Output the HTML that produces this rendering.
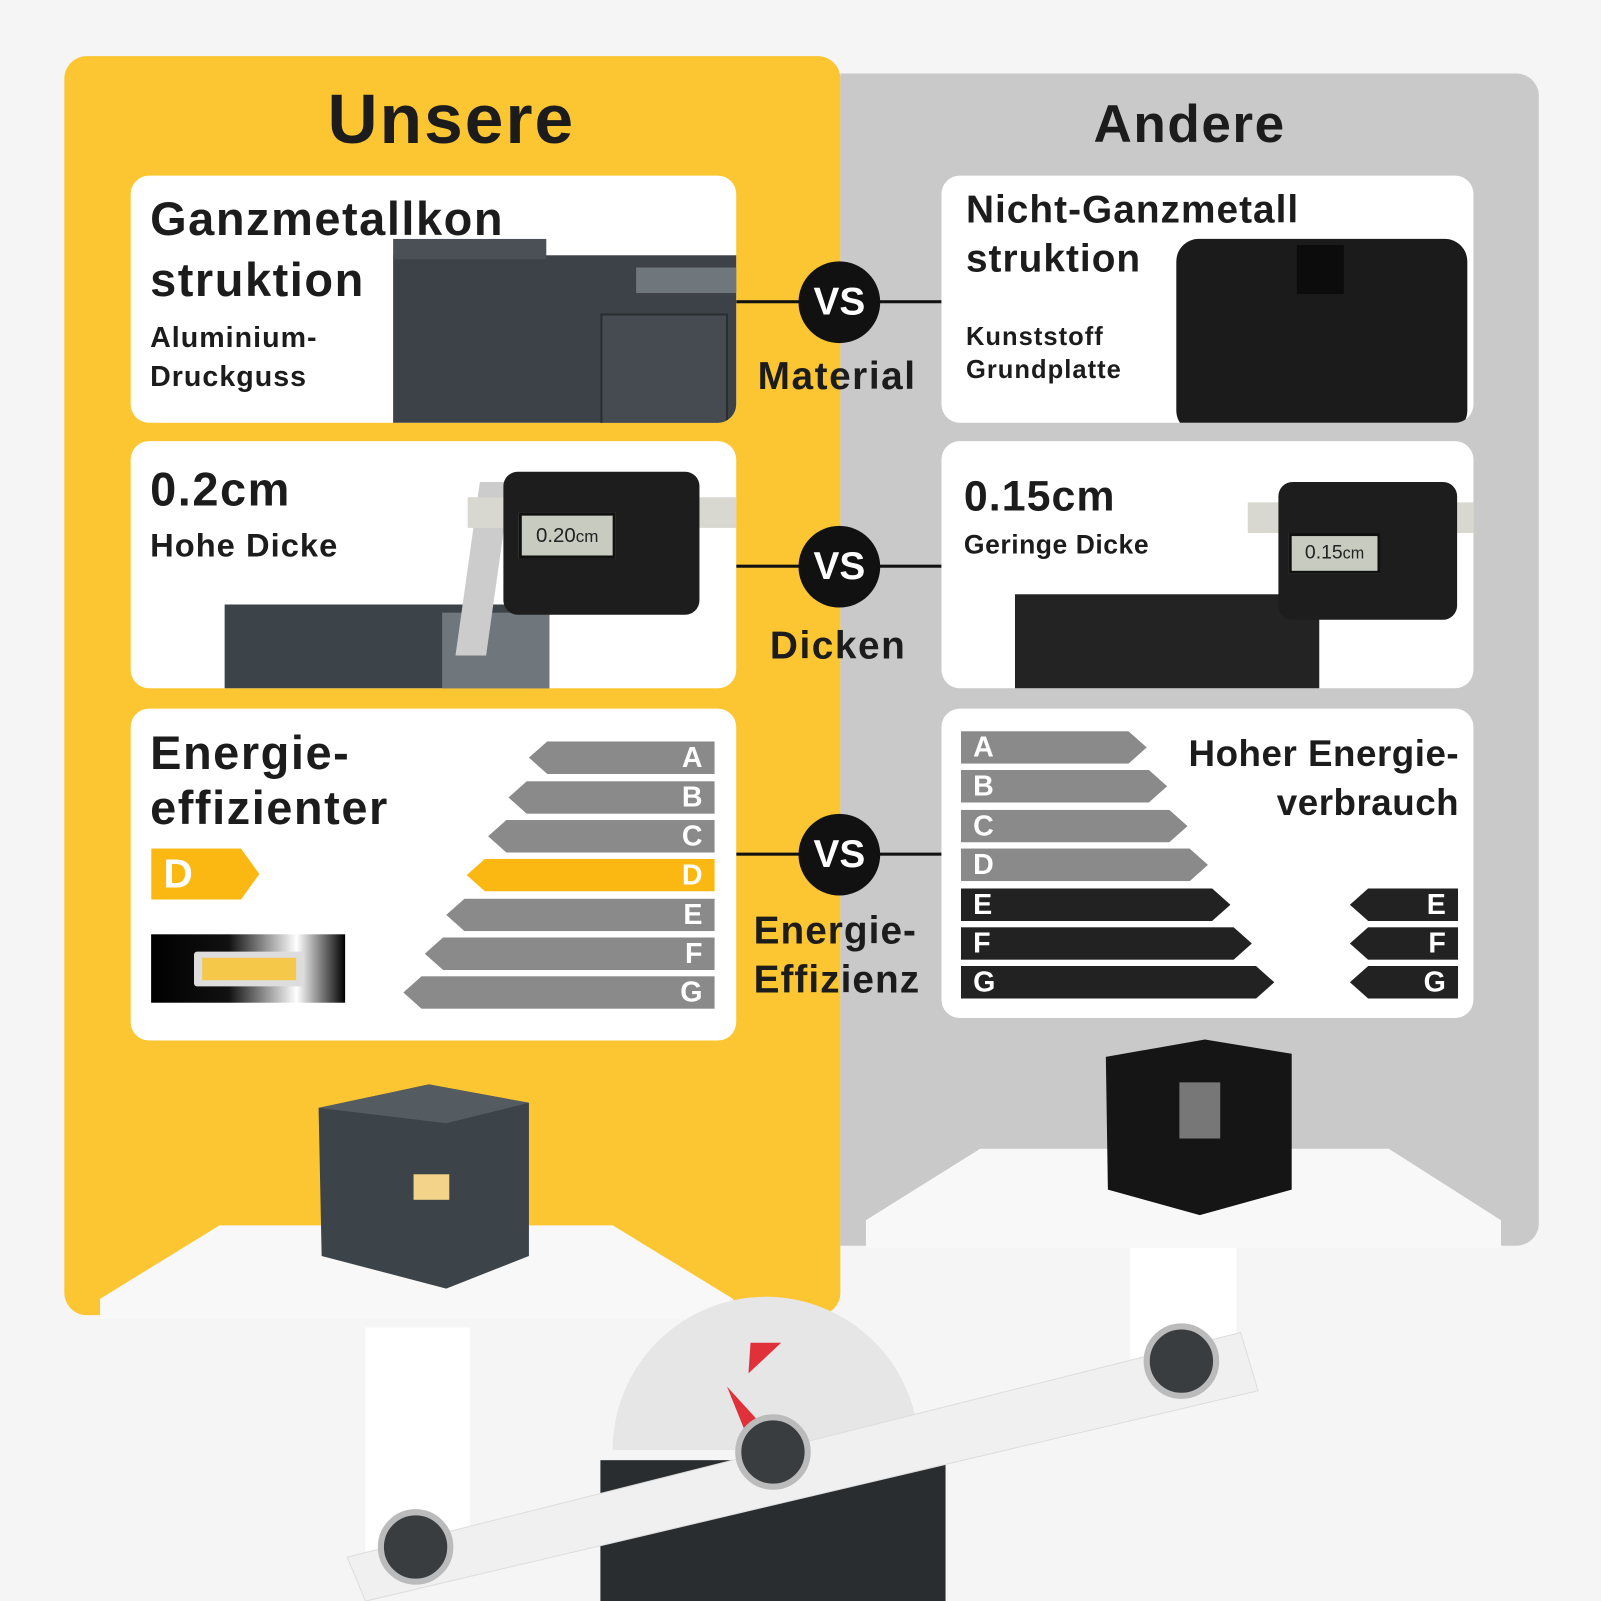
<!DOCTYPE html>
<html><head><meta charset="utf-8"><style>
*{margin:0;padding:0;box-sizing:border-box}
html,body{width:1601px;height:1601px;overflow:hidden;background:#f4f4f4;font-family:"Liberation Sans","DejaVu Sans",sans-serif}
#w{position:absolute;left:0;top:0;width:1568px;height:1568px;transform:scale(1.0211);transform-origin:0 0;background:#f5f5f5}
.a{position:absolute}
.card{position:absolute;background:#fff;border-radius:18px;overflow:hidden}
.t{position:absolute;color:#1c1c1c;font-weight:bold;white-space:nowrap;letter-spacing:0.5px}
.vs{position:absolute;width:80px;height:80px;border-radius:50%;background:#111;color:#fff;font-weight:bold;font-size:38px;text-align:center;line-height:80px}
.ln{position:absolute;height:3px;background:#111}
.bl{position:absolute;height:32px;color:#fff;font-weight:bold;font-size:28px;line-height:32px}
.L{clip-path:polygon(0 50%,18px 0,100% 0,100% 100%,18px 100%);text-align:right;padding-right:12px}
.R{clip-path:polygon(0 0,calc(100% - 18px) 0,100% 50%,calc(100% - 18px) 100%,0 100%);padding-left:12px}
</style></head><body><div id="w">
<div class="a" style="left:63px;top:55px;width:760px;height:1233px;background:#fcc632;border-radius:22px"></div>
<div class="a" style="left:823px;top:72px;width:684px;height:1148px;background:#c9c9c9;border-radius:0 22px 22px 0"></div>
<div class="t" style="left:0;width:884px;text-align:center;top:78px;font-size:68px;letter-spacing:2px">Unsere</div>
<div class="t" style="left:922px;width:486px;text-align:center;top:92px;font-size:52px;letter-spacing:1.5px">Andere</div>

<div class="ln" style="left:721px;width:201px;top:294px"></div>
<div class="ln" style="left:721px;width:201px;top:553px"></div>
<div class="ln" style="left:721px;width:201px;top:835px"></div>
<div class="vs" style="left:782px;top:256px">VS</div>
<div class="vs" style="left:782px;top:515px">VS</div>
<div class="vs" style="left:782px;top:797px">VS</div>
<div class="t" style="left:742px;top:348px;font-size:38px;letter-spacing:1.5px">Material</div>
<div class="t" style="left:754px;top:612px;font-size:38px;letter-spacing:1.5px">Dicken</div>
<div class="t" style="left:738px;top:888px;font-size:38px;line-height:48px;letter-spacing:1px">Energie-<br>Effizienz</div>

<div class="card" style="left:128px;top:172px;width:593px;height:242px">
 <div class="a" style="left:257px;top:78px;width:340px;height:170px;background:#3c4247"></div>
 <div class="a" style="left:257px;top:62px;width:150px;height:20px;background:#4a5055"></div>
 <div class="a" style="left:495px;top:90px;width:100px;height:25px;background:#70777c"></div>
 <div class="a" style="left:460px;top:135px;width:125px;height:110px;border:2px solid #2a2e31;background:#454b50"></div>
 <div class="t" style="left:19px;top:12px;font-size:46px;line-height:60px;letter-spacing:1.5px">Ganzmetallkon<br>struktion</div>
 <div class="t" style="left:19px;top:140px;font-size:28px;line-height:38px;letter-spacing:1px">Aluminium-<br>Druckguss</div>
</div>
<div class="card" style="left:128px;top:432px;width:593px;height:242px">
 <div class="a" style="left:92px;top:160px;width:318px;height:90px;background:#3d4449"></div>
 <div class="a" style="left:305px;top:168px;width:105px;height:80px;background:#6f777c"></div>
 <div class="a" style="left:330px;top:40px;width:30px;height:170px;background:#ccc;transform:skewX(-8deg)"></div>
 <div class="a" style="left:330px;top:55px;width:265px;height:30px;background:#d8d8d0"></div>
 <div class="a" style="left:365px;top:30px;width:192px;height:140px;background:#1d1d1d;border-radius:14px"></div>
 <div class="a" style="left:380px;top:70px;width:95px;height:45px;background:#c8ccc0;border:3px solid #111;font-size:20px;line-height:40px;text-align:center;color:#222">0.20<small>cm</small></div>
 <div class="t" style="left:19px;top:20px;font-size:46px;letter-spacing:1.5px">0.2cm</div>
 <div class="t" style="left:19px;top:84px;font-size:32px;letter-spacing:1px">Hohe Dicke</div>
</div>
<div class="card" style="left:128px;top:694px;width:593px;height:325px">
 <div class="t" style="left:19px;top:16px;font-size:46px;line-height:54px;letter-spacing:1.5px">Energie-<br>effizienter</div>
 <div class="bl R" style="left:20px;top:137px;width:106px;height:50px;background:#fbb812;font-size:40px;line-height:50px">D</div>
 <div class="a" style="left:20px;top:221px;width:190px;height:67px;background:linear-gradient(90deg,#000,#111 40%,#fff 75%,#000)"></div>
 <div class="a" style="left:62px;top:238px;width:108px;height:34px;background:#ddd;border-radius:3px"></div>
 <div class="a" style="left:70px;top:244px;width:92px;height:22px;background:#f5c84a"></div>
</div>
<div class="bl L" style="left:518px;top:726px;width:182px;background:#8a8a8a">A</div>
<div class="bl L" style="left:498px;top:765px;width:202px;background:#8a8a8a">B</div>
<div class="bl L" style="left:478px;top:803px;width:222px;background:#8a8a8a">C</div>
<div class="bl L" style="left:457px;top:841px;width:243px;background:#fbb812">D</div>
<div class="bl L" style="left:437px;top:880px;width:263px;background:#8a8a8a">E</div>
<div class="bl L" style="left:416px;top:918px;width:284px;background:#8a8a8a">F</div>
<div class="bl L" style="left:395px;top:956px;width:305px;background:#8a8a8a">G</div>

<div class="card" style="left:922px;top:172px;width:521px;height:242px">
 <div class="a" style="left:230px;top:62px;width:285px;height:190px;background:#1b1b1b;border-radius:22px"></div>
 <div class="a" style="left:348px;top:68px;width:46px;height:48px;background:#0c0c0c"></div>
 <div class="t" style="left:24px;top:10px;font-size:38px;line-height:48px;letter-spacing:1px">Nicht-Ganzmetall<br>struktion</div>
 <div class="t" style="left:24px;top:142px;font-size:25px;line-height:32px;letter-spacing:1px">Kunststoff<br>Grundplatte</div>
</div>
<div class="card" style="left:922px;top:432px;width:521px;height:242px">
 <div class="a" style="left:72px;top:150px;width:298px;height:100px;background:#232323"></div>
 <div class="a" style="left:300px;top:60px;width:221px;height:30px;background:#d8d8d0"></div>
 <div class="a" style="left:330px;top:40px;width:175px;height:135px;background:#1d1d1d;border-radius:14px"></div>
 <div class="a" style="left:340px;top:90px;width:90px;height:40px;background:#c8ccc0;border:3px solid #111;font-size:19px;line-height:34px;text-align:center;color:#222">0.15<small>cm</small></div>
 <div class="t" style="left:22px;top:30px;font-size:42px;letter-spacing:1px">0.15cm</div>
 <div class="t" style="left:22px;top:86px;font-size:26px;letter-spacing:0.5px">Geringe Dicke</div>
</div>
<div class="card" style="left:922px;top:694px;width:521px;height:303px">
 <div class="t" style="right:14px;top:20px;font-size:36px;line-height:48px;text-align:right">Hoher Energie-<br>verbrauch</div>
</div>
<div class="bl R" style="left:941px;top:716px;width:182px;background:#8a8a8a">A</div>
<div class="bl R" style="left:941px;top:754px;width:202px;background:#8a8a8a">B</div>
<div class="bl R" style="left:941px;top:793px;width:222px;background:#8a8a8a">C</div>
<div class="bl R" style="left:941px;top:831px;width:242px;background:#8a8a8a">D</div>
<div class="bl R" style="left:941px;top:870px;width:264px;background:#222">E</div>
<div class="bl R" style="left:941px;top:908px;width:285px;background:#222">F</div>
<div class="bl R" style="left:941px;top:946px;width:307px;background:#222">G</div>
<div class="bl L" style="left:1322px;top:870px;width:106px;background:#222">E</div>
<div class="bl L" style="left:1322px;top:908px;width:106px;background:#222">F</div>
<div class="bl L" style="left:1322px;top:946px;width:106px;background:#222">G</div>

<svg class="a" style="left:0;top:0" width="1568" height="1568" viewBox="0 0 1568 1568">
 <path d="M98 1272 L215 1200 L600 1200 L718 1272 L718 1292 L98 1292Z" fill="#f8f8f8"/>
 <path d="M848 1195 L960 1125 L1360 1125 L1470 1195 L1470 1222 L848 1222Z" fill="#f8f8f8"/>
 <rect x="358" y="1300" width="102" height="220" fill="#fff"/>
 <rect x="1107" y="1222" width="104" height="110" fill="#fff"/>
 <path d="M600 1420 A150 150 0 0 1 900 1420Z" fill="#e6e6e6"/>
 <rect x="588" y="1430" width="338" height="138" fill="#2a2d2f"/>
 <path d="M340 1525 L1215 1305 L1232 1362 L358 1568Z" fill="#f0f0f0" stroke="#ddd"/>
 <polygon points="733,1345 765,1315 735,1315" fill="#e0303a"/>
 <polygon points="712,1358 755,1405 735,1415" fill="#e0303a"/>
 <g fill="#3a3d40" stroke="#bbb" stroke-width="6">
  <circle cx="407" cy="1515" r="34"/><circle cx="757" cy="1422" r="34"/><circle cx="1157" cy="1333" r="34"/>
 </g>
 <polygon points="312,1085 420,1062 518,1080 518,1230 437,1262 315,1230" fill="#3d4449"/>
 <polygon points="312,1085 420,1062 518,1080 437,1100" fill="#555c61"/>
 <rect x="405" y="1150" width="35" height="25" fill="#f3d38a"/>
 <polygon points="1083,1035 1180,1018 1265,1032 1265,1165 1175,1190 1085,1165" fill="#151515"/>
 <rect x="1155" y="1060" width="40" height="55" fill="#777"/>
</svg>
</div></body></html>
